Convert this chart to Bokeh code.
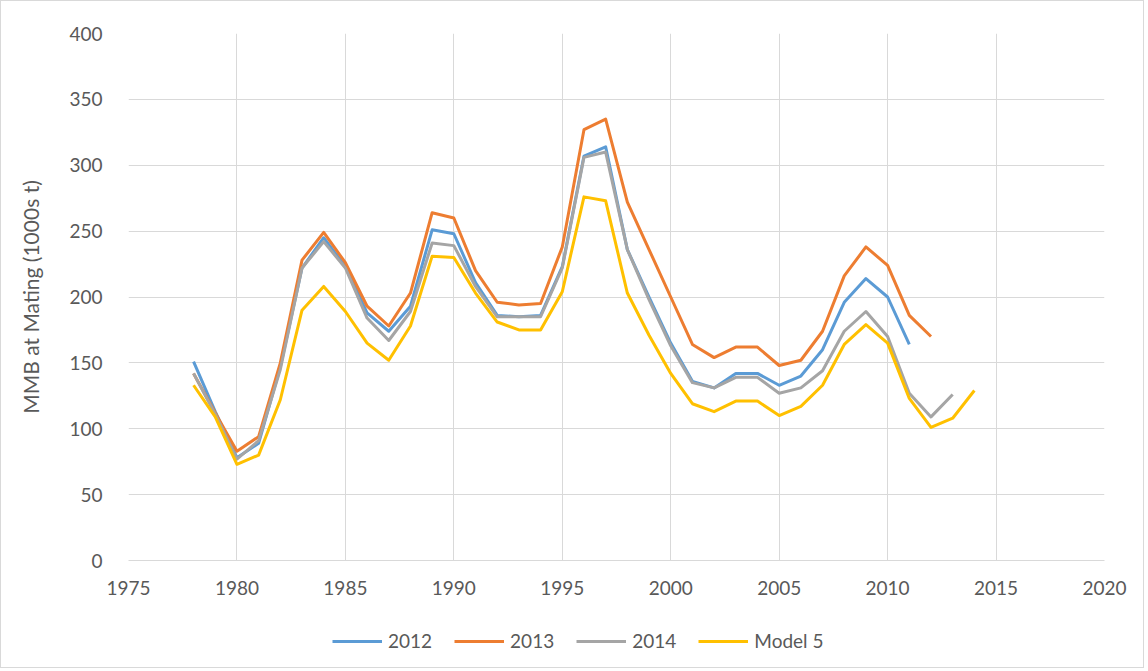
from bokeh.plotting import figure
from bokeh.layouts import column
from bokeh.models import FixedTicker, Legend, LegendItem, ColumnDataSource
from bokeh.embed import file_html
from bokeh.resources import INLINE

years_2012 = list(range(1978, 2012))
mmb_2012 = [151, 113, 78, 89, 147, 222, 245, 223, 188, 174, 193, 251, 248,
            211, 186, 185, 186, 223, 307, 314, 236, 200, 165, 136, 131, 142, 142,
            133, 140, 160, 196, 214, 200, 164]

years_2013 = list(range(1978, 2013))
mmb_2013 = [142, 112, 83, 94, 150, 228, 249, 226, 193, 178, 203, 264, 260,
            220, 196, 194, 195, 238, 327, 335, 272, 236, 200, 164, 154, 162, 162,
            148, 152, 174, 216, 238, 224, 186, 170]

years_2014 = list(range(1978, 2014))
mmb_2014 = [142, 111, 77, 91, 145, 222, 242, 222, 184, 167, 189, 241, 239,
            208, 185, 185, 185, 222, 306, 310, 236, 198, 163, 135, 131, 139, 139,
            127, 131, 144, 174, 189, 170, 127, 109, 126]

years_m5 = list(range(1978, 2015))
mmb_m5 = [133, 109, 73, 80, 122, 190, 208, 189, 165, 152, 178, 231, 230,
          203, 181, 175, 175, 204, 276, 273, 203, 171, 142, 119, 113, 121, 121,
          110, 117, 133, 164, 179, 165, 123, 101, 108, 129]

series = [
    ("2012", years_2012, mmb_2012, "#5B9BD5"),
    ("2013", years_2013, mmb_2013, "#ED7D31"),
    ("2014", years_2014, mmb_2014, "#A5A5A5"),
    ("Model 5", years_m5, mmb_m5, "#FFC000"),
]

x_ticks = list(range(1975, 2021, 5))
y_ticks = list(range(0, 401, 50))

FONT = "Lato"
TXT = "#595959"
GRID = "#D9D9D9"
FS = "19px"

# ---- main chart ----
p = figure(frame_width=976, frame_height=527, x_range=(1975, 2020), y_range=(0, 400),
           output_backend="svg", toolbar_location=None,
           min_border_left=127, min_border_right=39, min_border_top=32,
           min_border_bottom=50)

p.outline_line_color = None
p.background_fill_color = "white"
p.border_fill_color = "white"

p.xaxis.ticker = FixedTicker(ticks=x_ticks)
p.yaxis.ticker = FixedTicker(ticks=y_ticks)
p.xgrid.ticker = FixedTicker(ticks=x_ticks)
p.ygrid.ticker = FixedTicker(ticks=y_ticks)
p.xgrid.grid_line_color = GRID
p.ygrid.grid_line_color = GRID
p.xgrid.grid_line_width = 1
p.ygrid.grid_line_width = 1

for ax in (p.xaxis, p.yaxis):
    ax.major_tick_line_color = None
    ax.minor_tick_line_color = None
    ax.major_label_text_font = FONT
    ax.major_label_text_font_size = FS
    ax.major_label_text_color = TXT

p.xaxis.axis_line_color = GRID
p.yaxis.axis_line_color = None
p.xaxis.major_label_standoff = 14
p.yaxis.major_label_standoff = 20

p.yaxis.axis_label = "MMB at Mating (1000s t)"
p.yaxis.axis_label_text_font = FONT
p.yaxis.axis_label_text_font_size = "21px"
p.yaxis.axis_label_text_font_style = "normal"
p.yaxis.axis_label_text_color = TXT
p.yaxis.axis_label_standoff = 23

for name, xs, ys, col in series:
    src = ColumnDataSource(dict(x=xs, y=ys))
    p.line("x", "y", source=src, line_color=col, line_width=3, line_join="round")

# ---- legend strip below the chart (frame aligned with main chart's frame) ----
leg = figure(width=1142, height=57, x_range=(1975, 2020), y_range=(0, 400),
             output_backend="svg", toolbar_location=None,
             min_border=0, x_axis_type=None, y_axis_type=None)
leg.outline_line_color = None
leg.xgrid.visible = False
leg.ygrid.visible = False
leg.border_fill_color = "white"
leg.background_fill_color = "white"

items = []
for name, xs, ys, col in series:
    src = ColumnDataSource(dict(x=xs, y=ys))
    r = leg.line("x", "y", source=src, line_color=col, line_width=3, visible=False)
    items.append(LegendItem(label=name, renderers=[r]))

legend = Legend(items=items, orientation="horizontal", location=(204, 15),
                glyph_width=50, glyph_height=20, label_standoff=6, spacing=22,
                label_text_font=FONT, label_text_font_size=FS,
                label_text_color=TXT, border_line_color=None,
                background_fill_alpha=0, margin=0, padding=0,
                inactive_fill_alpha=0)
leg.add_layout(legend, "center")

layout = column(p, leg, spacing=0)
layout.styles = {"border": "1px solid #D9D9D9", "background-color": "white"}

open("out.html", "w").write(file_html(layout, INLINE))
